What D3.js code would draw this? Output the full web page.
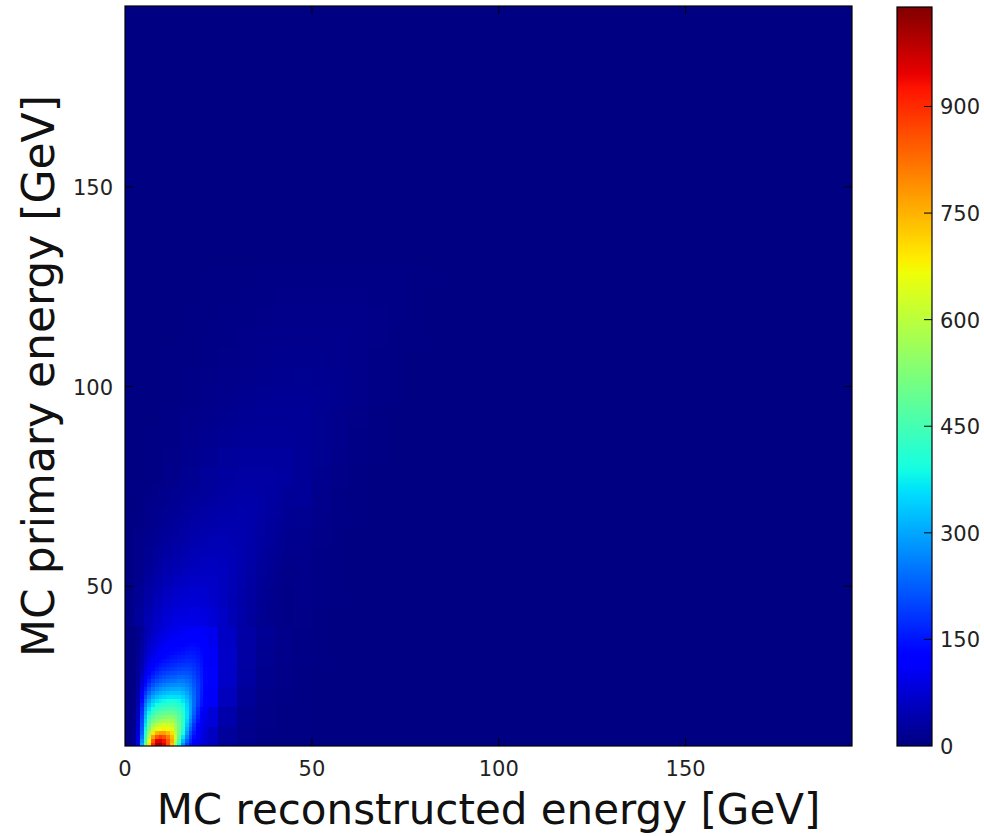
<!DOCTYPE html>
<html><head><meta charset="utf-8">
<script src="https://cdn.jsdelivr.net/npm/d3@7"></script>
<style>html,body{margin:0;padding:0;background:#fff;}svg{display:block;font-family:"DejaVu Sans",sans-serif;}</style>
</head><body>
<script>
// ---------- data (counts) ----------
const xDomain = [0, 194.5];
const yDomain = [10, 195.3];
const colorMax = 1040;
const backgroundCount = 3;
const xTicks = [0, 50, 100, 150];
const yTicks = [50, 100, 150];
const cTicks = [0, 150, 300, 450, 600, 750, 900];
const xLabel = "MC reconstructed energy [GeV]";
const yLabel = "MC primary energy [GeV]";

// coarse bins: 5 GeV, x from 0, y from 10
const coarseX0 = 0, coarseY0 = 10, coarseStep = 5;
const coarseCounts = [
 [5,650,650,180,60,25,12,7,5,4,3,3,3,3,3,3,3,3,3,3],
 [5,350,450,220,80,38,15,8,5,4,3,3,3,3,3,3,3,3,3,3],
 [5,200,300,200,110,55,22,10,6,4,3,3,3,3,3,3,3,3,3,3],
 [6,120,200,180,115,65,30,14,8,5,3,3,3,3,3,3,3,3,3,3],
 [10,80,140,150,110,65,32,16,10,6,4,3,3,3,3,3,3,3,3,3],
 [8,55,105,115,100,62,34,18,12,7,4,3,3,3,3,3,3,3,3,3],
 [6,38,75,90,88,68,42,24,13,8,5,3,3,3,3,3,3,3,3,3],
 [5,26,55,70,72,62,42,26,15,9,6,4,3,3,3,3,3,3,3,3],
 [4,18,40,55,60,56,42,28,17,10,6,4,3,3,3,3,3,3,3,3],
 [4,13,30,44,50,52,44,32,20,12,7,5,3,3,3,3,3,3,3,3],
 [3,10,22,34,42,45,43,34,23,14,8,5,3,3,3,3,3,3,3,3],
 [3,8,17,27,35,40,40,35,25,16,10,6,4,3,3,3,3,3,3,3],
 [3,6,13,21,29,34,36,35,28,22,12,7,4,3,3,3,3,3,3,3],
 [3,5,10,17,24,29,32,32,29,22,14,8,5,3,3,3,3,3,3,3],
 [3,4,8,13,19,24,27,28,27,22,16,10,6,4,3,3,3,3,3,3],
 [3,4,7,11,15,19,22,23,23,21,16,11,7,4,3,3,3,3,3,3],
 [3,3,6,9,12,15,18,20,21,20,16,12,8,5,3,3,3,3,3,3],
 [3,3,5,7,10,12,15,17,18,18,17,13,9,6,4,3,3,3,3,3],
 [3,3,4,6,8,10,12,14,15,16,15,13,10,7,4,3,3,3,3,3],
 [3,3,4,5,7,8,10,12,13,14,14,12,10,7,5,3,3,3,3,3],
 [3,3,3,4,6,7,9,10,11,12,12,11,10,8,5,4,3,3,3,3],
 [3,3,3,4,5,6,7,8,9,10,10,10,9,8,6,4,3,3,3,3],
 [3,3,3,3,4,5,6,7,8,8,8,8,8,7,6,5,3,3,3,3],
 [3,3,3,3,4,4,5,6,6,7,7,7,7,7,6,5,4,3,3,3]
];

// medium bins: 2.5 GeV, x from 0, y from 40
const mediumX0 = 0, mediumY0 = 40, mediumStep = 2.5;
const mediumCounts = [
 [8,28,48,65,80,88,92,92,88,78,64,48,35,24,16,11,8,6],
 [7,25,43,59,73,82,86,87,84,76,64,50,38,27,18,12,9,7],
 [6,21,37,52,64,73,78,78,75,67,57,46,36,27,19,13,9,7],
 [6,18,32,45,56,65,70,72,71,66,58,48,38,29,21,15,10,7],
 [5,15,27,38,48,56,62,65,66,63,57,49,40,31,23,16,11,8],
 [5,13,23,33,42,49,55,59,61,60,56,49,41,33,25,18,12,8],
 [4,11,19,28,36,43,48,53,55,56,54,49,42,35,27,20,14,9],
 [4,10,16,24,31,37,43,47,50,52,51,48,43,36,29,22,16,11],
 [4,9,14,20,26,32,37,42,45,47,48,46,42,37,31,24,18,13],
 [3,8,12,17,22,28,33,37,41,43,45,44,42,38,32,26,20,15],
 [3,7,10,15,19,24,29,33,36,39,41,42,41,38,34,28,22,17],
 [3,6,9,13,17,21,25,29,32,35,38,39,40,38,35,30,24,19],
 [3,5,8,11,14,18,22,25,28,31,34,36,37,37,35,31,26,21],
 [3,5,7,10,13,16,19,22,25,28,31,33,35,35,34,31,27,23]
];

// fine bins: 1 GeV, x from 0, y from 10
const fineX0 = 0, fineY0 = 10, fineStep = 1;
const fineCounts = [
 [0,5,20,90,300,480,700,900,1000,1010,960,860,740,560,390,280,200,150,120,100,80,70],
 [0,5,20,90,280,450,660,850,950,960,930,850,760,600,440,320,230,170,130,105,88,72],
 [0,5,20,85,250,420,600,770,850,880,860,810,740,630,480,360,260,190,140,110,90,75],
 [0,5,18,80,230,400,560,690,750,770,770,740,700,610,500,390,290,210,155,118,95,78],
 [0,5,16,75,220,380,520,610,650,670,680,670,640,580,500,410,310,230,170,125,100,80],
 [0,4,15,70,210,360,480,560,600,620,630,630,610,570,500,420,330,250,180,132,104,84],
 [0,4,14,65,200,340,440,510,540,560,570,575,570,540,490,420,345,270,200,148,112,90],
 [0,4,13,60,190,320,410,470,500,515,525,530,530,510,475,425,360,285,215,160,120,95],
 [0,4,12,55,180,300,380,430,460,475,485,490,490,480,455,415,360,295,228,170,128,100],
 [0,4,11,50,170,280,350,400,425,440,450,455,460,450,432,400,352,295,233,176,134,105],
 [0,3,10,45,155,255,320,365,390,405,415,420,425,420,410,385,345,295,240,190,148,115],
 [0,3,9,42,140,230,290,335,360,375,385,390,395,392,385,365,332,290,240,192,152,120],
 [0,3,8,38,125,205,260,300,325,340,350,357,362,360,358,342,315,280,238,195,157,125],
 [0,3,8,35,110,180,230,270,292,307,318,325,330,330,330,318,297,268,232,194,160,128],
 [0,3,7,32,95,158,205,240,262,277,288,295,300,301,303,295,280,257,227,193,162,132],
 [0,3,7,30,82,138,180,212,234,249,260,267,272,274,278,273,262,244,219,190,162,134],
 [0,2,6,28,72,120,158,188,208,222,233,240,245,248,254,252,245,232,211,186,161,135],
 [0,2,6,26,64,105,140,167,186,199,210,217,222,226,232,232,228,219,202,181,158,134],
 [0,2,6,24,57,93,124,149,167,180,190,197,202,206,212,214,212,206,193,175,155,133],
 [0,2,5,22,51,83,111,134,151,163,172,179,184,188,194,197,198,194,184,169,152,132],
 [0,2,5,20,46,74,100,121,137,148,157,164,169,173,178,182,184,182,175,163,148,130],
 [0,2,5,18,42,67,90,109,124,135,144,150,156,160,165,169,172,172,167,157,144,128],
 [0,2,5,17,38,61,82,99,113,124,132,139,145,149,153,157,161,162,159,151,140,126],
 [0,2,4,16,35,56,75,91,104,114,122,129,135,139,142,146,151,153,151,145,136,124],
 [0,2,4,15,32,52,69,84,96,106,114,120,126,130,133,137,142,145,144,140,132,121],
 [0,2,4,14,30,48,64,78,89,98,106,112,117,122,125,129,134,137,137,134,128,118],
 [0,2,4,13,28,45,60,73,84,93,100,106,111,116,117,121,126,129,130,128,123,115],
 [0,2,4,12,26,42,56,68,79,87,94,100,105,109,110,114,119,122,123,122,118,111],
 [0,2,4,11,24,39,52,64,74,82,88,94,99,103,103,107,112,115,117,116,113,107],
 [0,2,4,10,22,36,48,60,69,77,83,89,94,98,100,103,106,108,110,110,108,103]
];

// ---------- jet colormap (matplotlib) ----------
const jetR = [[0,0],[0.35,0],[0.66,1],[0.89,1],[1,0.5]];
const jetG = [[0,0],[0.125,0],[0.375,1],[0.64,1],[0.91,0],[1,0]];
const jetB = [[0,0.5],[0.11,1],[0.34,1],[0.65,0],[1,0]];
function seg(pts, t){
  t = Math.max(0, Math.min(1, t));
  for (let i = 1; i < pts.length; i++) {
    if (t <= pts[i][0]) {
      const [a, va] = pts[i-1], [b, vb] = pts[i];
      return va + (vb - va) * (t - a) / (b - a);
    }
  }
  return pts[pts.length-1][1];
}
function jet(t){
  return d3.rgb(Math.round(255*seg(jetR,t)), Math.round(255*seg(jetG,t)), Math.round(255*seg(jetB,t))).formatHex();
}

// ---------- layout ----------
const W = 984, H = 836;
const plot = {left:125, top:6, right:852, bottom:746};
const cbar = {left:897, width:35, top:7, bottom:746};

const svg = d3.select("body").append("svg").attr("width", W).attr("height", H);

const x = d3.scaleLinear().domain(xDomain).range([plot.left, plot.right]);
const y = d3.scaleLinear().domain(yDomain).range([plot.bottom, plot.top]);
const norm = d3.scaleLinear().domain([0, colorMax]).range([0, 1]).clamp(true);
const color = v => jet(norm(v));

const defs = svg.append("defs");
defs.append("clipPath").attr("id","pc")
  .append("rect").attr("x",plot.left).attr("y",plot.top)
  .attr("width",plot.right-plot.left).attr("height",plot.bottom-plot.top);

const g = svg.append("g").attr("clip-path","url(#pc)");
g.append("rect").attr("x",plot.left).attr("y",plot.top)
  .attr("width",plot.right-plot.left).attr("height",plot.bottom-plot.top)
  .attr("fill", color(backgroundCount));

function cells(matrix, x0, y0, step){
  const out = [];
  matrix.forEach((row, i) => row.forEach((v, j) => {
    out.push({x0: x0 + j*step, x1: x0 + (j+1)*step, y0: y0 + i*step, y1: y0 + (i+1)*step, v});
  }));
  return out;
}
function drawCells(data){
  g.append("g").attr("shape-rendering","crispEdges").selectAll("rect").data(data).join("rect")
    .attr("x", d => x(d.x0)).attr("y", d => y(d.y1))
    .attr("width", d => x(d.x1) - x(d.x0) + 0.5)
    .attr("height", d => y(d.y0) - y(d.y1) + 0.5)
    .attr("fill", d => color(d.v));
}
drawCells(cells(coarseCounts, coarseX0, coarseY0, coarseStep));
drawCells(cells(mediumCounts, mediumX0, mediumY0, mediumStep));
drawCells(cells(fineCounts, fineX0, fineY0, fineStep));

// frame
svg.append("rect").attr("x",plot.left).attr("y",plot.top)
  .attr("width",plot.right-plot.left).attr("height",plot.bottom-plot.top)
  .attr("fill","none").attr("stroke","#000").attr("stroke-width",1.2);

// axes with inward ticks
const tickLen = 8;
const fs = 21;
const ax = svg.append("g").attr("font-size", fs).attr("fill","#222");
xTicks.forEach(t => {
  const px = x(t);
  if (t > xDomain[0]) {
    svg.append("line").attr("x1",px).attr("x2",px).attr("y1",plot.bottom).attr("y2",plot.bottom-tickLen).attr("stroke","#000");
    svg.append("line").attr("x1",px).attr("x2",px).attr("y1",plot.top).attr("y2",plot.top+tickLen).attr("stroke","#000");
  }
  ax.append("text").attr("x",px).attr("y",plot.bottom+30).attr("text-anchor","middle").text(t);
});
yTicks.forEach(t => {
  const py = y(t);
  svg.append("line").attr("x1",plot.left).attr("x2",plot.left+tickLen).attr("y1",py).attr("y2",py).attr("stroke","#000");
  svg.append("line").attr("x1",plot.right).attr("x2",plot.right-tickLen).attr("y1",py).attr("y2",py).attr("stroke","#000");
  ax.append("text").attr("x",plot.left-12).attr("y",py+8).attr("text-anchor","end").text(t);
});

svg.append("text").attr("x",(plot.left+plot.right)/2).attr("y",824)
  .attr("text-anchor","middle").attr("font-size",42).attr("fill","#111").text(xLabel);
svg.append("text").attr("transform",`translate(54,${(plot.top+plot.bottom)/2}) rotate(-90)`)
  .attr("text-anchor","middle").attr("font-size",44).attr("fill","#111").text(yLabel);

// colorbar
const cs = d3.scaleLinear().domain([0, colorMax]).range([cbar.bottom, cbar.top]);
const grad = defs.append("linearGradient").attr("id","jetg")
  .attr("x1",0).attr("y1",1).attr("x2",0).attr("y2",0);
d3.range(0, 1.0001, 0.01).forEach(t => grad.append("stop").attr("offset",t).attr("stop-color",jet(t)));
svg.append("rect").attr("x",cbar.left).attr("y",cbar.top).attr("width",cbar.width)
  .attr("height",cbar.bottom-cbar.top).attr("fill","url(#jetg)").attr("stroke","#000").attr("stroke-width",1.2);
cTicks.forEach(t => {
  const py = cs(t);
  if (t > 0) svg.append("line").attr("x1",cbar.left+cbar.width-tickLen).attr("x2",cbar.left+cbar.width)
    .attr("y1",py).attr("y2",py).attr("stroke","#000");
  ax.append("text").attr("x",cbar.left+cbar.width+8).attr("y",py+8).text(t);
});
</script>
</body></html>
